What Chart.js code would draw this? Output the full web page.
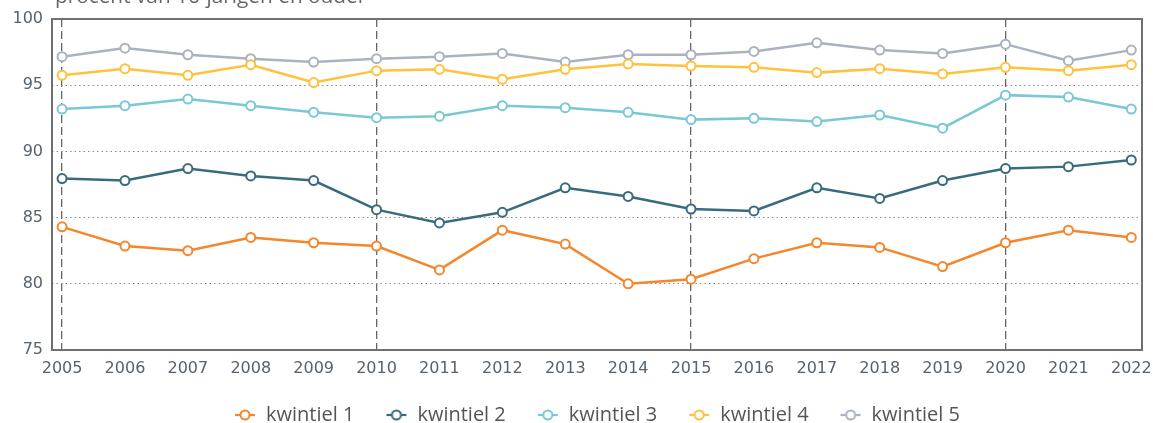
<!DOCTYPE html>
<html lang="nl">
<head>
    <meta charset="UTF-8">
    <title>Kwintielen</title>
    <script src="https://cdn.jsdelivr.net/npm/chart.js"></script>
    <style>
        html, body { margin: 0; padding: 0; background: #fff; overflow: hidden; }
        .wrap { position: relative; width: 1153px; height: 423px; }
        .unit {
            position: absolute;
            top: -15px; left: 55px;
            font: 20.8px "Open Sans", sans-serif;
            line-height: 20px;
            color: #666;
            white-space: nowrap;
        }
    </style>
</head>
<body>
    <div class="wrap">
        <div class="unit">procent van 16-jarigen en ouder</div>
        <canvas id="chart" width="1153" height="423"></canvas>
    </div>

    <script>
        const years = [2005, 2006, 2007, 2008, 2009, 2010, 2011, 2012, 2013, 2014, 2015, 2016, 2017, 2018, 2019, 2020, 2021, 2022];
        const kwintiel1 = [84.3, 82.85, 82.5, 83.5, 83.1, 82.85, 81.05, 84.05, 83.0, 80.0, 80.35, 81.9, 83.1, 82.75, 81.3, 83.1, 84.05, 83.5];
        const kwintiel2 = [87.95, 87.8, 88.7, 88.15, 87.8, 85.6, 84.6, 85.4, 87.25, 86.6, 85.65, 85.5, 87.25, 86.45, 87.8, 88.7, 88.85, 89.35];
        const kwintiel3 = [93.2, 93.45, 93.95, 93.45, 92.95, 92.55, 92.65, 93.45, 93.3, 92.95, 92.4, 92.5, 92.25, 92.75, 91.75, 94.25, 94.1, 93.2];
        const kwintiel4 = [95.75, 96.25, 95.75, 96.55, 95.2, 96.1, 96.2, 95.45, 96.2, 96.6, 96.45, 96.35, 95.95, 96.25, 95.85, 96.35, 96.1, 96.55];
        const kwintiel5 = [97.15, 97.8, 97.3, 97.0, 96.75, 97.0, 97.15, 97.4, 96.75, 97.3, 97.3, 97.55, 98.2, 97.65, 97.4, 98.1, 96.85, 97.65];
        const yTicks = [75, 80, 85, 90, 95, 100];
        const markedYears = [2005, 2010, 2015, 2020];

        const series = [
            { label: 'kwintiel 1', data: kwintiel1, color: '#f4862c' },
            { label: 'kwintiel 2', data: kwintiel2, color: '#386b7e' },
            { label: 'kwintiel 3', data: kwintiel3, color: '#7ac7d5' },
            { label: 'kwintiel 4', data: kwintiel4, color: '#fec23c' },
            { label: 'kwintiel 5', data: kwintiel5, color: '#abb2bf' }
        ];

        // legenda-icoon: lijntje met open rondje
        function legendIcon(color) {
            const c = document.createElement('canvas');
            c.width = 22; c.height = 14;
            const g = c.getContext('2d');
            g.strokeStyle = color;
            g.lineWidth = 2.2;
            g.beginPath(); g.moveTo(1, 7); g.lineTo(21, 7); g.stroke();
            g.fillStyle = '#fff';
            g.lineWidth = 2;
            g.beginPath(); g.arc(11, 7, 4.5, 0, Math.PI * 2); g.fill(); g.stroke();
            return c;
        }

        const boxPlugin = {
            id: 'box',
            beforeDatasetsDraw(chart) {
                const { ctx, chartArea: a } = chart;
                ctx.save();
                ctx.strokeStyle = '#707070';
                ctx.lineWidth = 2;
                ctx.strokeRect(a.left, a.top, a.right - a.left, a.bottom - a.top);
                ctx.restore();
            }
        };

        const tickColor = '#56626f';
        const tickFont = { family: 'DejaVu Sans', size: 16 };

        new Chart(document.getElementById('chart'), {
            type: 'line',
            data: {
                datasets: series.map(s => ({
                    label: s.label,
                    data: years.map((y, i) => ({ x: y, y: s.data[i] })),
                    borderColor: s.color,
                    backgroundColor: '#fff',
                    pointBackgroundColor: '#fff',
                    pointBorderColor: s.color,
                    borderWidth: 2.5,
                    pointRadius: 4.5,
                    pointBorderWidth: 2,
                    tension: 0
                }))
            },
            options: {
                responsive: false,
                animation: false,
                layout: { padding: { top: 19, right: 11, bottom: -12, left: 0 } },
                plugins: {
                    tooltip: { enabled: false },
                    legend: {
                        position: 'bottom',
                        fullSize: false,
                        labels: {
                            usePointStyle: true,
                            pointStyleWidth: 22,
                            padding: 31,
                            color: '#555',
                            font: { family: 'Open Sans', size: 20 },
                            generateLabels(chart) {
                                return Chart.defaults.plugins.legend.labels.generateLabels(chart).map((l, i) => {
                                    l.pointStyle = legendIcon(series[i].color);
                                    return l;
                                });
                            }
                        }
                    }
                },
                scales: {
                    x: {
                        type: 'linear',
                        min: 2004.84,
                        max: 2022.17,
                        afterFit(scale) {
                            scale.height = 24;
                            scale.paddingLeft = 0;
                            scale.paddingRight = 0;
                        },
                        ticks: {
                            stepSize: 1,
                            includeBounds: false,
                            padding: 9,
                            color: tickColor,
                            font: tickFont,
                            maxRotation: 0,
                            autoSkip: false,
                            callback: v => String(v)
                        },
                        grid: {
                            drawTicks: false,
                            lineWidth: 1.3,
                            color: ctx => markedYears.includes(ctx.tick && ctx.tick.value) ? '#666' : 'rgba(0,0,0,0)'
                        },
                        border: { display: false, dash: [8, 4] }
                    },
                    y: {
                        min: 75,
                        max: 100,
                        afterFit(scale) {
                            scale.width = 52;
                            scale.paddingTop = 0;
                            scale.paddingBottom = 0;
                        },
                        afterBuildTicks(scale) { scale.ticks = yTicks.map(v => ({ value: v })); },
                        ticks: {
                            padding: 9,
                            color: tickColor,
                            font: tickFont
                        },
                        grid: {
                            drawTicks: false,
                            lineWidth: 1,
                            color: ctx => (ctx.tick && ctx.tick.value > 75 && ctx.tick.value < 100) ? '#8c8c8c' : 'rgba(0,0,0,0)'
                        },
                        border: { display: false, dash: [1.5, 3] }
                    }
                }
            },
            plugins: [boxPlugin]
        });
    </script>
</body>
</html>
